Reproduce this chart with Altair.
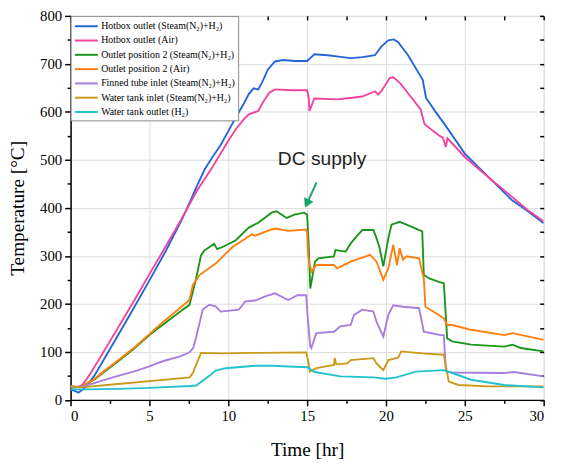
import altair as alt
import pandas as pd

series_names = [
    "Hotbox outlet (Steam(N₂)+H₂)",
    "Hotbox outlet (Air)",
    "Outlet position 2 (Steam(N₂)+H₂)",
    "Outlet position 2 (Air)",
    "Finned tube inlet (Steam(N₂)+H₂)",
    "Water tank inlet (Steam(N₂)+H₂)",
    "Water tank outlet (H₂)",
]
series_colors = ["#2466d9", "#f2439d", "#1b961b", "#ff7f0e", "#a67ee0", "#c99a1a", "#22c3cc"]

hotbox_steam = [(0, 22), (0.3, 18), (0.5, 15), (0.7, 20), (1.0, 28), (1.5, 50), (2, 78), (3, 134), (4, 191),
                (5, 249), (6, 308), (7, 372), (7.33, 395), (8, 445), (8.5, 480), (9, 506), (9.5, 530), (10, 560),
                (10.5, 590), (11, 618), (11.3, 637), (11.6, 649), (11.9, 647), (12.2, 665), (12.5, 688),
                (12.96, 705), (13.5, 708), (14.2, 706), (15.0, 706), (15.2, 712), (15.46, 720), (16.3, 718),
                (17.0, 715), (17.75, 712), (18.5, 714), (19.3, 718), (19.7, 736), (20.15, 749), (20.5, 751),
                (20.77, 745), (21.4, 718), (22.33, 667), (22.54, 629), (23.17, 599), (23.7, 575), (25.0, 513),
                (26.7, 458), (27.96, 417), (29.0, 393), (30, 368)]
hotbox_air = [(0, 28), (0.5, 27), (0.7, 30), (1.0, 42), (1.5, 68), (2, 95), (3, 150), (4, 205), (5, 262),
              (6, 318), (7, 375), (7.33, 395), (8, 435), (9, 485), (10, 540), (10.5, 565), (11, 585), (11.3, 595),
              (11.9, 602), (12.2, 620), (12.6, 640), (12.96, 647), (14.0, 645), (15.0, 645), (15.1, 630),
              (15.15, 602), (15.46, 628), (16.9, 626), (17.75, 629), (18.5, 632), (19.3, 643), (19.5, 636),
              (19.7, 643), (20.25, 671), (20.46, 672), (20.9, 660), (21.3, 643), (22.2, 605), (22.44, 575),
              (22.96, 561), (23.4, 550), (23.6, 547), (23.8, 527), (23.9, 545), (25.0, 506), (26.7, 458),
              (27.96, 424), (29.0, 395), (30, 372)]
outlet2_steam = [(0, 25), (0.7, 28), (1.5, 42), (2, 55), (3, 80), (4, 106), (5, 135), (5.46, 147), (6, 160),
                 (7, 185), (7.54, 198), (7.75, 225), (7.96, 253), (8.27, 301), (8.48, 311), (9.1, 325),
                 (9.3, 314), (9.6, 318), (10.46, 332), (11.3, 359), (11.9, 369), (12.75, 390), (13.06, 393),
                 (13.7, 379), (14.2, 386), (14.8, 390), (15.0, 386), (15.1, 321), (15.2, 232), (15.35, 260),
                 (15.5, 288), (15.7, 295), (16.7, 299), (16.8, 312), (17.45, 309), (17.76, 326), (18.5, 354),
                 (19.2, 354), (19.4, 337), (19.6, 316), (19.83, 278), (20.15, 337), (20.35, 365), (20.87, 371),
                 (21.3, 365), (22.3, 351), (22.4, 260), (22.74, 253), (23.36, 246), (23.67, 243), (23.88, 128),
                 (24.2, 122), (25.4, 115), (27.5, 111), (28.03, 115), (28.55, 108), (30, 101)]
outlet2_air = [(0, 26), (0.7, 28), (1.5, 43), (2, 57), (3, 82), (4, 108), (5, 137), (5.46, 151), (6, 166),
               (7, 193), (7.54, 208), (7.75, 239), (8.17, 260), (9.2, 284), (10.25, 318), (11.5, 345),
               (11.7, 342), (12.75, 355), (13.0, 357), (13.8, 352), (14.94, 355), (15.0, 349), (15.06, 302),
               (15.15, 285), (15.27, 267), (15.58, 281), (16.7, 281), (16.9, 274), (17.76, 288), (19.0, 302),
               (19.4, 288), (19.83, 250), (20.15, 274), (20.46, 323), (20.7, 281), (20.87, 316), (21.08, 292),
               (21.3, 299), (22.1, 295), (22.4, 253), (22.5, 194), (23.36, 177), (23.67, 170), (23.88, 156),
               (24.2, 156), (25.4, 146), (27.5, 135), (28.03, 139), (30, 125)]
finned_steam = [(0, 26), (0.7, 27), (1.5, 35), (2, 40), (3, 50), (4, 59), (5, 70), (5.46, 76), (6, 82), (7, 91),
                (7.54, 99), (7.77, 108), (7.96, 130), (8.38, 188), (8.8, 198), (9.2, 195), (9.52, 184),
                (10.67, 188), (11.08, 205), (11.7, 207), (12.3, 215), (12.96, 222), (13.8, 208), (14.4, 218),
                (14.94, 218), (15.04, 170), (15.2, 112), (15.27, 108), (15.58, 139), (16.7, 142), (17.1, 153),
                (17.76, 156), (17.97, 177), (18.5, 188), (19.2, 184), (19.4, 163), (19.83, 132), (20.15, 177),
                (20.46, 197), (21.08, 194), (22.1, 191), (22.4, 142), (23.47, 135), (23.67, 135), (23.8, 59),
                (24.2, 57), (27.5, 56), (28.1, 58), (30, 49)]
tank_in_steam = [(0, 29), (0.5, 26), (1, 27), (3, 33), (5, 39), (7.56, 47), (7.77, 57), (7.85, 64), (8.27, 98),
                 (9.6, 97), (12, 98), (14.94, 99), (15.1, 75), (15.17, 59), (15.58, 66), (16.7, 73), (16.75, 87),
                 (16.85, 74), (17.55, 76), (17.76, 83), (19.2, 87), (19.4, 76), (19.83, 62), (20.15, 83),
                 (20.77, 88), (20.97, 101), (22.3, 97), (23.67, 94), (23.98, 38), (24.6, 31), (26.5, 28), (30, 28)]
tank_out_h2 = [(0, 22), (1, 22), (3, 23), (5, 25), (7.56, 29), (7.96, 30), (8.3, 38), (8.8, 50), (9.2, 61),
               (9.83, 66), (11.7, 71), (12.75, 71), (15, 68), (15.48, 58), (17.1, 49), (19.2, 47), (20, 44),
               (20.66, 47), (21.9, 59), (23.67, 62), (24.2, 56), (25.4, 42), (27.5, 31), (30, 26)]

x_major = [0, 5, 10, 15, 20, 25, 30]
x_minor = [2.5, 7.5, 12.5, 17.5, 22.5, 27.5]
y_major = [0, 100, 200, 300, 400, 500, 600, 700, 800]
y_minor = [50, 150, 250, 350, 450, 550, 650, 750]

note_text = ["DC supply"]
note_t = [15.95]
note_T = [490]
arrow_start = (15.6, 453)
arrow_head = (14.985, 409)

all_series = [hotbox_steam, hotbox_air, outlet2_steam, outlet2_air, finned_steam, tank_in_steam, tank_out_h2]
rows = []
for name, pts in zip(series_names, all_series):
    for t, v in pts:
        rows.append({"series": name, "t": t, "T": v})
df = pd.DataFrame(rows)

SERIF = "Liberation Serif"
xs = alt.Scale(domain=[0, 30], nice=False, zero=False)
ys = alt.Scale(domain=[0, 800], nice=False)

lines = alt.Chart(df).mark_line(strokeWidth=1.9, clip=True).encode(
    x=alt.X("t:Q", scale=xs, title="Time [hr]",
            axis=alt.Axis(orient="bottom", values=x_major, grid=True, gridColor="#dcdcdc", gridWidth=1,
                          tickSize=6, tickWidth=1.5, tickColor="black", domainColor="black", domainWidth=1.5,
                          labelFont=SERIF, labelFontSize=15, labelColor="black", labelPadding=3,
                          titleFont=SERIF, titleFontSize=19.5, titleFontWeight="normal", titleColor="black",
                          titlePadding=17)),
    y=alt.Y("T:Q", scale=ys, title="Temperature [°C]",
            axis=alt.Axis(orient="left", values=y_major, grid=True, gridColor="#dcdcdc", gridWidth=1,
                          tickSize=6, tickWidth=1.5, tickColor="black", domainColor="black", domainWidth=1.5,
                          labelFont=SERIF, labelFontSize=15, labelColor="black", labelPadding=3,
                          titleFont=SERIF, titleFontSize=19.5, titleFontWeight="normal", titleColor="black",
                          titlePadding=12)),
    color=alt.Color("series:N", sort=series_names,
                    scale=alt.Scale(domain=series_names, range=series_colors),
                    legend=alt.Legend(title=None, orient="top-left", offset=0, symbolType="M-1,0H2.8",
                                      symbolSize=150, symbolStrokeWidth=2, labelFont=SERIF, labelFontSize=10,
                                      labelColor="black", labelLimit=400, labelOffset=13, rowPadding=1.5,
                                      padding=3, strokeColor="#888888", fillColor="white")),
)

minor = alt.Chart(df).mark_point(opacity=0).encode(
    x=alt.X("t:Q", scale=xs, title=None,
            axis=alt.Axis(orient="bottom", values=x_minor, grid=False, labels=False, domain=False,
                          tickSize=3.5, tickWidth=1.5, tickColor="black")),
    y=alt.Y("T:Q", scale=ys, title=None,
            axis=alt.Axis(orient="left", values=y_minor, grid=False, labels=False, domain=False,
                          tickSize=3.5, tickWidth=1.5, tickColor="black")),
)

mirror = alt.Chart(df).mark_point(opacity=0).encode(
    x=alt.X("t:Q", scale=xs, title=None,
            axis=alt.Axis(orient="top", values=x_major + x_minor, grid=False, labels=False, domain=False,
                          tickSize=4, tickWidth=1.5, tickColor="black", offset=-4)),
    y=alt.Y("T:Q", scale=ys, title=None,
            axis=alt.Axis(orient="right", values=y_major + y_minor, grid=False, labels=False, domain=False,
                          tickSize=4, tickWidth=1.5, tickColor="black", offset=-4)),
)

note_df = pd.DataFrame({"t": note_t, "T": note_T, "label": note_text})
note = alt.Chart(note_df).mark_text(font="Liberation Sans", fontSize=19.5, align="center",
                                    baseline="alphabetic", color="#222222").encode(
    x=alt.X("t:Q", scale=xs, axis=None), y=alt.Y("T:Q", scale=ys, axis=None), text="label:N")

arrow_df = pd.DataFrame({"t": [arrow_start[0]], "T": [arrow_start[1]],
                         "t2": [arrow_head[0]], "T2": [arrow_head[1]]})
arrow_line = alt.Chart(arrow_df).mark_rule(color="#17a36c", strokeWidth=2).encode(
    x=alt.X("t:Q", scale=xs, axis=None), y=alt.Y("T:Q", scale=ys, axis=None), x2="t2:Q", y2="T2:Q")
head_df = pd.DataFrame({"t": [arrow_head[0]], "T": [arrow_head[1]]})
arrow_tip = alt.Chart(head_df).mark_point(shape="triangle-up", filled=True, size=110, angle=205,
                                          color="#17a36c", opacity=1).encode(
    x=alt.X("t:Q", scale=xs, axis=None), y=alt.Y("T:Q", scale=ys, axis=None))

chart = alt.layer(lines, minor, mirror, note, arrow_line, arrow_tip).resolve_axis(
    x="independent", y="independent"
).properties(
    width=480, height=389.6,
    autosize=alt.AutoSizeParams(type="none"),
    padding={"left": 63.5, "top": 4.7, "right": 11.5, "bottom": 57.7},
).configure_view(stroke="black", strokeWidth=1.5).configure_axis(
    titleFontWeight="normal"
).configure(background="white")

chart.save("out.html", embed_options={"renderer": "svg", "actions": False})
